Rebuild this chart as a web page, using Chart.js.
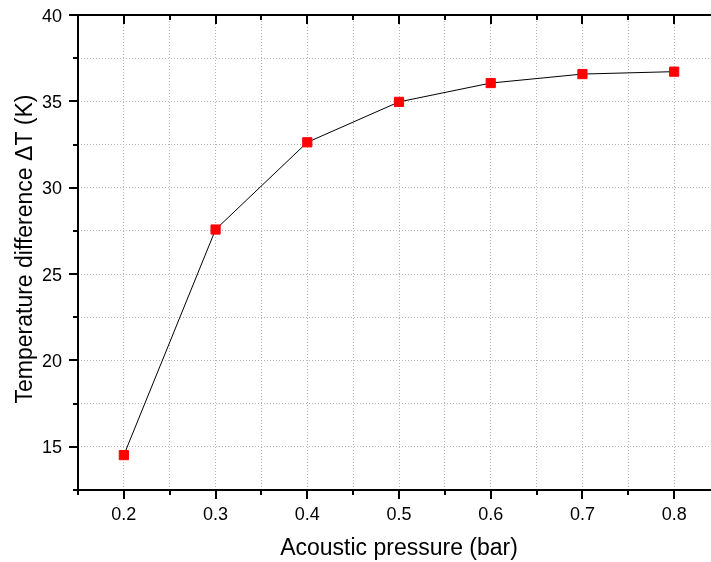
<!DOCTYPE html>
<html>
<head>
<meta charset="utf-8">
<script src="https://cdn.jsdelivr.net/npm/chart.js@4/dist/chart.umd.min.js"></script>
<style>
    html, body { margin: 0; padding: 0; overflow: hidden; background: #fff; }
    canvas { display: block; }
</style>
</head>
<body>
<canvas id="chart" width="740" height="562"></canvas>
<script>
// data
const pressure = [0.2, 0.3, 0.4, 0.5, 0.6, 0.7, 0.8];
const deltaT = [14.52, 27.58, 32.63, 34.97, 36.06, 36.58, 36.72];

const xTicks = [0.2, 0.3, 0.4, 0.5, 0.6, 0.7, 0.8];
const xTickLabels = ['0.2', '0.3', '0.4', '0.5', '0.6', '0.7', '0.8'];
const xMinorTicks = [0.15, 0.25, 0.35, 0.45, 0.55, 0.65, 0.75, 0.85];
const yTicks = [15, 20, 25, 30, 35, 40];
const yTickLabels = ['15', '20', '25', '30', '35', '40'];
const yMinorTicks = [12.5, 17.5, 22.5, 27.5, 32.5, 37.5];

const xTitle = 'Acoustic pressure (bar)';
const yTitle = 'Temperature difference \u0394T (K)';
const FONT = '"Liberation Sans", Arial, sans-serif';

// axes, tick marks, labels and titles drawn Origin-style
const originAxes = {
    id: 'originAxes',
    afterDraw(chart) {
        const { ctx, chartArea: a, scales: { x, y } } = chart;
        ctx.save();
        ctx.strokeStyle = '#000';
        ctx.lineWidth = 2;
        ctx.beginPath();
        ctx.moveTo(a.left, a.top); ctx.lineTo(a.left, a.bottom + 1);
        ctx.moveTo(a.left - 1, a.bottom); ctx.lineTo(a.right, a.bottom);
        ctx.moveTo(a.left - 1, a.top); ctx.lineTo(a.right, a.top);
        ctx.stroke();

        ctx.beginPath();
        xTicks.forEach(v => {
            const px = Math.round(x.getPixelForValue(v));
            ctx.moveTo(px, a.bottom); ctx.lineTo(px, a.bottom + 9);
            ctx.moveTo(px, a.top); ctx.lineTo(px, a.top + 9);
        });
        xMinorTicks.forEach(v => {
            const px = Math.round(x.getPixelForValue(v));
            ctx.moveTo(px, a.bottom); ctx.lineTo(px, a.bottom + 5);
            ctx.moveTo(px, a.top); ctx.lineTo(px, a.top + 5);
        });
        yTicks.forEach(v => {
            const py = Math.round(y.getPixelForValue(v));
            ctx.moveTo(a.left, py); ctx.lineTo(a.left - 9, py);
        });
        yMinorTicks.forEach(v => {
            const py = Math.round(y.getPixelForValue(v));
            ctx.moveTo(a.left, py); ctx.lineTo(a.left - 5, py);
        });
        ctx.stroke();

        ctx.fillStyle = '#000';
        ctx.font = '18px ' + FONT;
        ctx.textAlign = 'center';
        ctx.textBaseline = 'alphabetic';
        xTicks.forEach((v, i) => {
            ctx.fillText(xTickLabels[i], x.getPixelForValue(v), a.bottom + 30);
        });
        ctx.textAlign = 'right';
        yTicks.forEach((v, i) => {
            ctx.fillText(yTickLabels[i], a.left - 16, y.getPixelForValue(v) + 6.5);
        });

        ctx.font = '23px ' + FONT;
        ctx.textAlign = 'center';
        ctx.fillText(xTitle, (x.getPixelForValue(0.2) + x.getPixelForValue(0.8)) / 2, a.bottom + 65);
        ctx.translate(32, 249);
        ctx.rotate(-Math.PI / 2);
        ctx.fillText(yTitle, 0, 0);
        ctx.restore();
    }
};

new Chart(document.getElementById('chart').getContext('2d'), {
    type: 'scatter',
    data: {
        datasets: [{
            data: pressure.map((p, i) => ({ x: p, y: deltaT[i] })),
            showLine: true,
            borderColor: '#000',
            borderWidth: 1,
            pointStyle: 'rect',
            pointRadius: 6.5,
            pointBackgroundColor: '#ff0000',
            pointBorderColor: '#ff0000',
            pointBorderWidth: 1
        }]
    },
    options: {
        responsive: false,
        animation: false,
        layout: { padding: { left: 78, top: 15, right: 20, bottom: 72 } },
        plugins: { legend: { display: false }, tooltip: { enabled: false } },
        scales: {
            x: {
                type: 'linear', min: 0.15, max: 0.85,
                ticks: { display: false, stepSize: 0.05 },
                grid: { color: '#b4b4b4', lineWidth: 1, drawTicks: false },
                border: { display: false, dash: [1, 2] }
            },
            y: {
                type: 'linear', min: 12.5, max: 40,
                ticks: { display: false, stepSize: 2.5 },
                grid: { color: '#b4b4b4', lineWidth: 1, drawTicks: false },
                border: { display: false, dash: [1, 2] }
            }
        }
    },
    plugins: [originAxes]
});
</script>
</body>
</html>
